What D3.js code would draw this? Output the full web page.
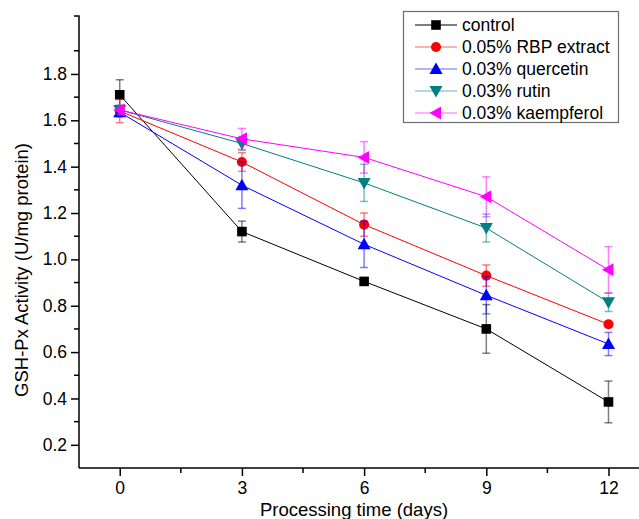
<!DOCTYPE html>
<html>
<head>
<meta charset="utf-8">
<script src="https://cdn.jsdelivr.net/npm/d3@7"></script>
<style>
  body { margin: 0; background: #fff; }
  svg { display: block; font-family: Arial, "Liberation Sans", sans-serif; }
</style>
</head>
<body>
<div id="chart-container"></div>
<script>
// Donnees
const days = [0, 3, 6, 9, 12];
const seriesNames = ["control", "0.05% RBP extract", "0.03% quercetin", "0.03% rutin", "0.03% kaempferol"];
const controlValues = [1.71, 1.12, 0.905, 0.70, 0.385];
const controlErrors = [0.065, 0.045, 0.01, 0.105, 0.09];
const rbpValues = [1.64, 1.42, 1.15, 0.93, 0.72];
const rbpErrors = [0.05, 0.04, 0.05, 0.046, 0.012];
const quercetinValues = [1.635, 1.32, 1.065, 0.845, 0.635];
const quercetinErrors = [0.02, 0.10, 0.10, 0.08, 0.05];
const rutinValues = [1.645, 1.50, 1.33, 1.135, 0.815];
const rutinErrors = [0.02, 0.03, 0.08, 0.06, 0.04];
const kaempferolValues = [1.645, 1.52, 1.44, 1.27, 0.955];
const kaempferolErrors = [0.02, 0.045, 0.068, 0.086, 0.10];
const xTicks = [0, 3, 6, 9, 12];
const xMinorTicks = [1.5, 4.5, 7.5, 10.5];
const yTicks = [0.2, 0.4, 0.6, 0.8, 1.0, 1.2, 1.4, 1.6, 1.8];
const yMinorTicks = [0.3, 0.5, 0.7, 0.9, 1.1, 1.3, 1.5, 1.7, 1.9];

const colors = ["#000000", "#ff0000", "#0000ff", "#008080", "#ff00ff"];
const symbols = ["square", "circle", "up", "down", "left"];

const series = seriesNames.map((name, i) => ({
    name: name,
    values: [controlValues, rbpValues, quercetinValues, rutinValues, kaempferolValues][i],
    errors: [controlErrors, rbpErrors, quercetinErrors, rutinErrors, kaempferolErrors][i],
    color: colors[i],
    symbol: symbols[i]
}));

const width = 639, height = 519;

const svg = d3.select("#chart-container")
    .append("svg")
    .attr("width", width)
    .attr("height", height);

// Echelles
const xScale = d3.scaleLinear().domain([-1, 14]).range([79, 79 + 15 * 40.73]);
const yScale = d3.scaleLinear().domain([0.1, 2.05]).range([468, 16]);

// Axe X
const xAxis = d3.axisBottom(xScale).tickValues(xTicks).tickSize(8).tickPadding(6)
    .tickFormat(d3.format("d"));
const gx = svg.append("g")
    .attr("transform", "translate(0," + yScale(0.1) + ")")
    .call(xAxis);
gx.select(".domain").attr("d", "M" + xScale(-1) + ",0H" + width).attr("stroke-width", 1.5);
gx.selectAll(".tick line").attr("stroke-width", 1.5);
gx.selectAll(".tick text").attr("font-size", "17.5px").attr("font-family", "Arial, 'Liberation Sans', sans-serif");
gx.selectAll(".minor")
    .data(xMinorTicks)
    .enter().append("line")
    .attr("x1", d => xScale(d)).attr("x2", d => xScale(d))
    .attr("y1", 0).attr("y2", 5)
    .attr("stroke", "#000").attr("stroke-width", 1.5);

// Axe Y
const yAxis = d3.axisLeft(yScale).tickValues(yTicks).tickSize(8).tickPadding(4)
    .tickFormat(d3.format(".1f"));
const gy = svg.append("g")
    .attr("transform", "translate(" + xScale(-1) + ",0)")
    .call(yAxis);
gy.select(".domain").attr("d", "M-5," + yScale(2.05) + "H0V" + yScale(0.1)).attr("stroke-width", 1.5);
gy.selectAll(".tick line").attr("stroke-width", 1.5);
gy.selectAll(".tick text").attr("font-size", "17.5px").attr("font-family", "Arial, 'Liberation Sans', sans-serif");
gy.selectAll(".minor")
    .data(yMinorTicks)
    .enter().append("line")
    .attr("x1", 0).attr("x2", -5)
    .attr("y1", d => yScale(d)).attr("y2", d => yScale(d))
    .attr("stroke", "#000").attr("stroke-width", 1.5);

// Titres des axes
svg.append("text")
    .attr("x", 354).attr("y", 516)
    .attr("text-anchor", "middle")
    .attr("font-size", "18.5px")
    .text("Processing time (days)");

svg.append("text")
    .attr("transform", "translate(28,270) rotate(-90)")
    .attr("text-anchor", "middle")
    .attr("font-size", "18.5px")
    .text("GSH-Px Activity (U/mg protein)");

// Symboles
function symbolPath(sym) {
    if (sym === "square") return "M-4.8,-4.8H4.8V4.8H-4.8Z";
    if (sym === "circle") return d3.symbol().type(d3.symbolCircle).size(80)();
    if (sym === "up") return "M0,-6.5L6.5,5L-6.5,5Z";
    if (sym === "down") return "M0,6.5L6.5,-5L-6.5,-5Z";
    if (sym === "left") return "M-6.5,0L5,-6.5L5,6.5Z";
}

const line = d3.line()
    .x((d, i) => xScale(days[i]))
    .y(d => yScale(d));

series.forEach(s => {
    const g = svg.append("g");
    // barres d'erreur
    days.forEach((day, i) => {
        const x = xScale(day);
        const y0 = yScale(s.values[i] - s.errors[i]);
        const y1 = yScale(s.values[i] + s.errors[i]);
        const eb = g.append("g")
            .attr("stroke", s.color)
            .attr("stroke-opacity", 0.5)
            .attr("stroke-width", 1.5);
        eb.append("line").attr("x1", x).attr("x2", x).attr("y1", y0).attr("y2", y1);
        eb.append("line").attr("x1", x - 4).attr("x2", x + 4).attr("y1", y0).attr("y2", y0);
        eb.append("line").attr("x1", x - 4).attr("x2", x + 4).attr("y1", y1).attr("y2", y1);
    });
    // ligne
    g.append("path")
        .datum(s.values)
        .attr("d", line)
        .attr("fill", "none")
        .attr("stroke", s.color)
        .attr("stroke-width", 1);
    // marqueurs
    g.selectAll(".pt")
        .data(s.values)
        .enter().append("path")
        .attr("transform", (d, i) => "translate(" + xScale(days[i]) + "," + yScale(d) + ")")
        .attr("d", symbolPath(s.symbol))
        .attr("fill", s.color);
});

// Legende
const legend = svg.append("g");
legend.append("rect")
    .attr("x", 403.5).attr("y", 11.5)
    .attr("width", 215).attr("height", 111)
    .attr("fill", "#fff")
    .attr("stroke", "#6e6e6e")
    .attr("stroke-width", 1.2);

series.forEach((s, i) => {
    const y = 25 + i * 22;
    legend.append("line")
        .attr("x1", 415).attr("x2", 457)
        .attr("y1", y).attr("y2", y)
        .attr("stroke", s.color)
        .attr("stroke-opacity", i === 0 ? 1 : 0.6)
        .attr("stroke-width", 1.2);
    legend.append("path")
        .attr("transform", "translate(436," + y + ")")
        .attr("d", symbolPath(s.symbol))
        .attr("fill", s.color);
    legend.append("text")
        .attr("x", 462).attr("y", y + 6)
        .attr("font-size", "17.5px")
        .text(s.name);
});
</script>
</body>
</html>
